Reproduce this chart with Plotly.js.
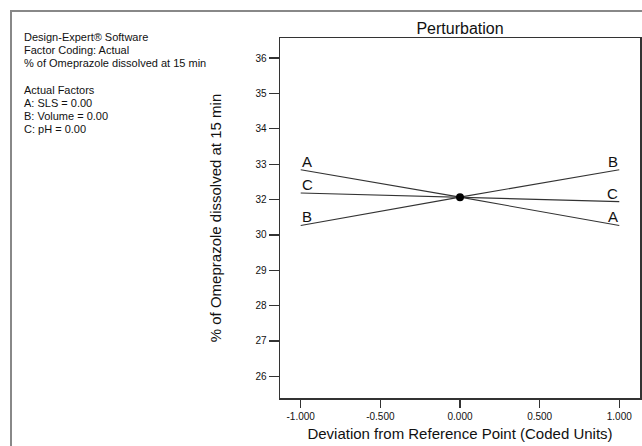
<!DOCTYPE html>
<html>
<head>
<meta charset="utf-8">
<script src="https://cdn.plot.ly/plotly-3.0.1.min.js"></script>
<style>
html,body{margin:0;padding:0;background:#fff;}
#chart{width:642px;height:446px;}
</style>
</head>
<body>
<div id="chart"></div>
<script>
// ---- data ----
var factors = ['A', 'B', 'C'];
var deviation = [-1, 0, 1];
var valuesA = [32.49, 31.63, 30.74];
var valuesB = [30.74, 31.63, 32.49];
var valuesC = [31.76, 31.63, 31.49];
var refPoint = {x: [0], y: [31.63]};
var yTickVals = [26, 27.111, 28.222, 29.333, 30.444, 31.556, 32.667, 33.778, 34.889, 36];
var yTickText = ['26', '27', '28', '29', '30', '32', '33', '34', '35', '36'];
var xTickVals = [-1, -0.5, 0, 0.5, 1];
var xTickText = ['-1.000', '-0.500', '0.000', '0.500', '1.000'];
var infoLines = ['Design-Expert® Software', 'Factor Coding: Actual', '% of Omeprazole dissolved at 15 min',
                 'Actual Factors', 'A: SLS = 0.00', 'B: Volume = 0.00', 'C: pH = 0.00'];

var seriesVals = [valuesA, valuesB, valuesC];
var font = 'Liberation Sans, Arial, sans-serif';

var traces = [];
factors.forEach(function (f, i) {
  traces.push({
    x: deviation, y: seriesVals[i], mode: 'lines', name: f,
    line: {color: '#333', width: 1.1}, hoverinfo: 'skip'
  });
});
traces.push({
  x: refPoint.x, y: refPoint.y, mode: 'markers', name: 'ref',
  marker: {color: '#000', size: 8}
});

var annotations = [];
factors.forEach(function (f, i) {
  var v = seriesVals[i];
  annotations.push({x: deviation[0], y: v[0], xref: 'x', yref: 'y', text: f, showarrow: false,
    xanchor: 'left', yanchor: 'bottom', yshift: -1, font: {family: font, size: 15, color: '#111'}, borderpad: 0});
  annotations.push({x: deviation[deviation.length - 1], y: v[v.length - 1], xref: 'x', yref: 'y', text: f, showarrow: false,
    xanchor: 'right', yanchor: 'bottom', yshift: -1, font: {family: font, size: 15, color: '#111'}, borderpad: 0});
});

// info text block (pixel layout converted to paper)
var L = 280, W = 360, T = 38, H = 360;
function px(xp) { return (xp - L) / W; }
function py(yp) { return (T + H - yp) / H; }
var infoY = [37, 50, 63, 90, 103, 116, 129];
infoLines.forEach(function (t, i) {
  annotations.push({x: px(23), y: py(infoY[i]), xref: 'paper', yref: 'paper', text: t, showarrow: false,
    xanchor: 'left', yanchor: 'middle', font: {family: font, size: 11, color: '#111'}, borderpad: 0});
});

var layout = {
  width: 642, height: 446,
  margin: {l: L, r: 642 - L - W, t: T, b: 446 - T - H},
  paper_bgcolor: '#fff', plot_bgcolor: '#fff',
  showlegend: false,
  title: {text: 'Perturbation', font: {family: font, size: 16, color: '#111'},
    x: 0.5, xref: 'paper', xanchor: 'center', y: 1 - 28.5 / 446, yanchor: 'middle'},
  xaxis: {
    range: [-1.13, 1.13], tickvals: xTickVals, ticktext: xTickText,
    ticks: 'outside', ticklen: 8, tickwidth: 1.2, tickcolor: '#333',
    tickfont: {family: font, size: 10, color: '#111'},
    showline: true, linecolor: '#333', linewidth: 1.5, mirror: true,
    showgrid: false, zeroline: false, fixedrange: true,
    title: {text: 'Deviation from Reference Point (Coded Units)', font: {family: font, size: 15, color: '#111'}, standoff: 8}
  },
  yaxis: {
    range: [25.32, 36.63], tickvals: yTickVals, ticktext: yTickText,
    ticks: 'outside', ticklen: 10, tickwidth: 1.2, tickcolor: '#333',
    tickfont: {family: font, size: 10, color: '#111'},
    showline: true, linecolor: '#333', linewidth: 1.5, mirror: true,
    showgrid: false, zeroline: false, fixedrange: true,
    title: {text: '% of Omeprazole dissolved at 15 min', font: {family: font, size: 15, color: '#111'}, standoff: 30}
  },
  shapes: [{
    type: 'rect', xref: 'paper', yref: 'paper',
    x0: px(11), x1: px(660), y0: py(470), y1: py(11),
    line: {color: '#888', width: 2}, fillcolor: 'rgba(0,0,0,0)', layer: 'below'
  }],
  annotations: annotations
};

Plotly.newPlot('chart', traces, layout, {displayModeBar: false, staticPlot: true});
</script>
</body>
</html>
